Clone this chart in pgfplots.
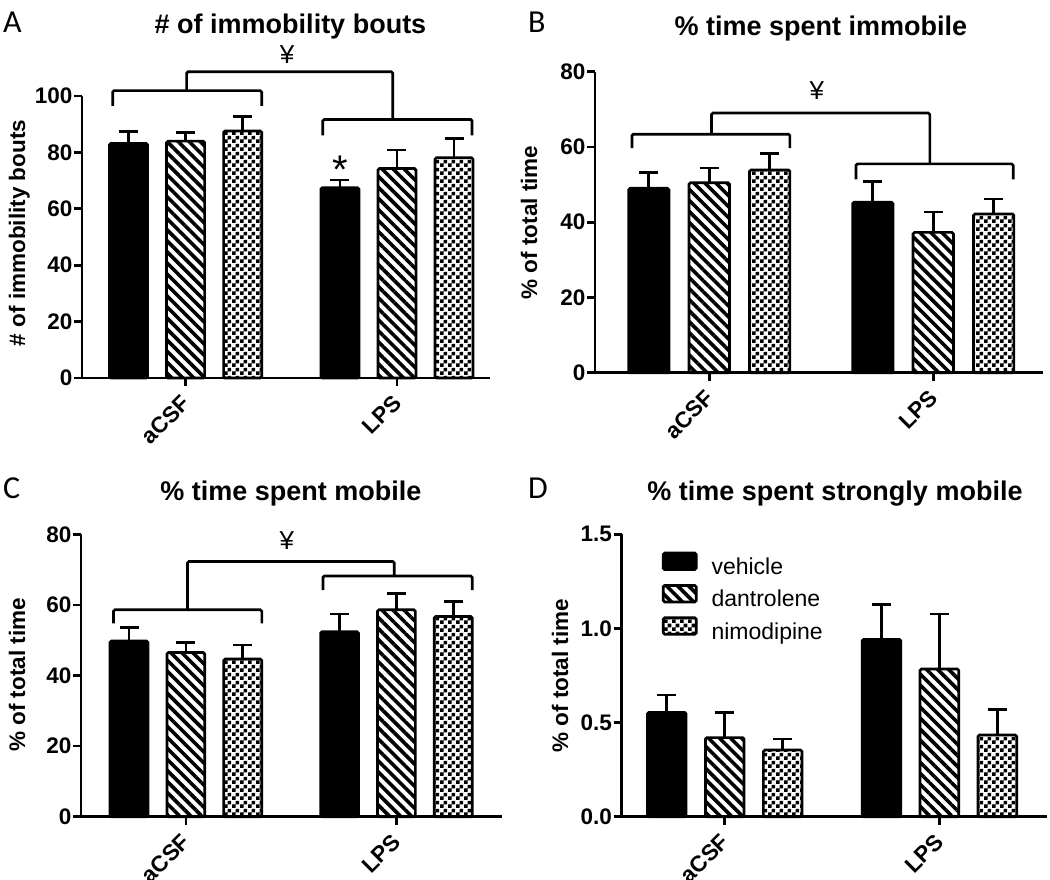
\documentclass[border=0pt]{standalone}
\usepackage{fontspec}
\setmainfont{Liberation Sans}
\newfontfamily\letterfont{Carlito}
\usepackage{pgfplots}
\pgfplotsset{compat=1.18}
\usetikzlibrary{patterns,patterns.meta}

% coarse checkerboard like the GraphPad fill
\pgfdeclarepatternformonly{bigchecker}{\pgfqpoint{0pt}{0pt}}{\pgfqpoint{8pt}{8pt}}{\pgfqpoint{8pt}{8pt}}{%
  \pgfpathrectangle{\pgfqpoint{0pt}{0pt}}{\pgfqpoint{4pt}{4pt}}%
  \pgfpathrectangle{\pgfqpoint{4pt}{4pt}}{\pgfqpoint{4pt}{4pt}}%
  \pgfusepath{fill}}

\newcommand\tfont{\bfseries\fontsize{27}{32}\selectfont}
\newcommand\lfont{\bfseries\fontsize{22.5}{27}\selectfont}
\newcommand\yen{\fontsize{26}{30}\selectfont ¥}

\tikzset{brk/.style={line width=2.7pt, rounded corners=1.5pt}}

\pgfplotsset{
  panel/.style={
    scale only axis, anchor=south west,
    axis x line*=bottom, axis y line*=left,
    axis line style={-, line width=2.7pt},
    major tick style={line width=2.7pt, black},
    major tick length=8pt, tick align=outside,
    xtick={0,1}, xticklabels={aCSF,LPS},
    ymin=0, clip=false,
    tick label style={font=\lfont},
    /pgf/number format/assume math mode=true,
    xticklabel style={rotate=45, anchor=east, inner sep=1pt, xshift=-8pt, yshift=-9.6pt},
    yticklabel style={inner sep=1.5pt},
  },
  vbar/.style={
    ybar, bar width=0.18, bar shift=0pt, draw=black, line width=2.7pt,
    rounded corners=1.5pt,
    error bars/y dir=plus, error bars/y explicit,
    error bars/error bar style={line width=2.7pt, black},
    error bars/error mark options={rotate=90, mark size=9.5pt, line width=2.7pt, black},
    legend image code/.code={\draw[##1, /tikz/.cd, line width=2.7pt, rounded corners=1.5pt] (0pt,-0.5pt) rectangle (33pt,16pt);},
  },
  veh/.style={vbar, fill=black},
  dan/.style={vbar, pattern={Lines[angle=-45, distance=7.8pt, line width=3.6pt]}},
  nim/.style={vbar, pattern=bigchecker},
}

\begin{document}
\begin{tikzpicture}
\useasboundingbox (0pt,0pt) rectangle (1050pt,879pt);

% ---------- A ----------
\begin{axis}[panel, at={(82pt,501pt)}, width=408pt, height=282pt,
  xmin=-0.49, xmax=1.44, ymax=100, ytick={0,20,...,100}]
\addplot[veh] coordinates {(-0.27,83.2) +- (0,4.2) (0.73,67.5) +- (0,2.7)};
\addplot[dan] coordinates {(0,84.0) +- (0,3.0) (1,74.3) +- (0,6.6)};
\addplot[nim] coordinates {(0.27,87.6) +- (0,5.1) (1.27,78.1) +- (0,6.9)};
\draw[brk] (axis cs:-0.345,96.5) |- (axis cs:0.36,101.9) -- (axis cs:0.36,96.5);
\draw[brk] (axis cs:0.649,86) |- (axis cs:1.355,91.7) -- (axis cs:1.355,86);
\draw[brk] (axis cs:0.005,101.9) |- (axis cs:0.98,108.6) -- (axis cs:0.98,91.7);
\node[anchor=base] at (axis cs:0.48,111.6) {\yen};
\node[anchor=base, font=\fontsize{40}{48}\selectfont] at (axis cs:0.73,68.8) {*};
\end{axis}

% ---------- B ----------
\begin{axis}[panel, at={(595pt,506.3pt)}, width=448pt, height=301pt,
  xmin=-0.51, xmax=1.49, ymax=80, ytick={0,20,...,80}]
\addplot[veh] coordinates {(-0.27,49.0) +- (0,4.2) (0.73,45.3) +- (0,5.5)};
\addplot[dan] coordinates {(0,50.5) +- (0,3.9) (1,37.3) +- (0,5.4)};
\addplot[nim] coordinates {(0.27,53.9) +- (0,4.3) (1.27,42.2) +- (0,4.0)};
\draw[brk] (axis cs:-0.345,59.7) |- (axis cs:0.36,63.4) -- (axis cs:0.36,59.7);
\draw[brk] (axis cs:0.655,51.4) |- (axis cs:1.357,55.5) -- (axis cs:1.357,51.4);
\draw[brk] (axis cs:0.01,63.4) |- (axis cs:0.985,69.0) -- (axis cs:0.985,55.5);
\node[anchor=base] at (axis cs:0.48,72.5) {\yen};
\end{axis}

% ---------- C ----------
\begin{axis}[panel, at={(81pt,62.3pt)}, width=420.7pt, height=282.4pt,
  xmin=-0.498, xmax=1.50, ymax=80, ytick={0,20,...,80}]
\addplot[veh] coordinates {(-0.27,49.8) +- (0,3.8) (0.73,52.4) +- (0,5.0)};
\addplot[dan] coordinates {(0,46.5) +- (0,2.9) (1,58.6) +- (0,4.7)};
\addplot[nim] coordinates {(0.27,44.7) +- (0,3.9) (1.27,56.7) +- (0,4.2)};
\draw[brk] (axis cs:-0.344,54.8) |- (axis cs:0.361,58.6) -- (axis cs:0.361,54.8);
\draw[brk] (axis cs:0.651,64.2) |- (axis cs:1.36,68.2) -- (axis cs:1.36,64.2);
\draw[brk] (axis cs:0.008,58.6) |- (axis cs:0.99,72.3) -- (axis cs:0.99,68.2);
\node[anchor=base] at (axis cs:0.48,75.6) {\yen};
\end{axis}

% ---------- D ----------
\begin{axis}[panel, at={(621.7pt,62.3pt)}, width=425pt, height=282.4pt,
  xmin=-0.48, xmax=1.50, ymax=1.5, ytick={0,0.5,1,1.5},
  yticklabel style={/pgf/number format/.cd, fixed, fixed zerofill, precision=1},
  legend cell align=left,
  legend style={at={(rel axis cs:0.094,0.939)}, anchor=north west, draw=none, fill=none,
    inner sep=0pt, row sep=4.5pt, font=\fontsize{23}{27}\selectfont,
    nodes={inner sep=0pt, text height=16pt, text depth=5pt},
    /tikz/every odd column/.style={column sep=14pt}}]
\addplot[veh] coordinates {(-0.27,0.554) +- (0,0.092) (0.73,0.942) +- (0,0.186)};
\addplot[dan] coordinates {(0,0.42) +- (0,0.133) (1,0.785) +- (0,0.292)};
\addplot[nim] coordinates {(0.27,0.354) +- (0,0.059) (1.27,0.434) +- (0,0.136)};
\legend{vehicle, dantrolene, nimodipine}
\end{axis}

% titles, axis labels, panel letters
\node[anchor=base, font=\tfont] at (290.5pt,845pt) {\# of immobility bouts};
\node[anchor=base, font=\tfont] at (820.8pt,843pt) {\% time spent immobile};
\node[anchor=base, font=\tfont] at (290.8pt,378pt) {\% time spent mobile};
\node[anchor=base, font=\tfont] at (835pt,378pt) {\% time spent strongly mobile};
\node[anchor=base, rotate=90, font=\lfont] at (25pt,646pt) {\# of immobility bouts};
\node[anchor=base, rotate=90, font=\lfont] at (537pt,656.5pt) {\% of total time};
\node[anchor=base, rotate=90, font=\lfont] at (25pt,204pt) {\% of total time};
\node[anchor=base, rotate=90, font=\lfont] at (568pt,203.2pt) {\% of total time};
\node[anchor=base west, inner sep=0pt, font=\letterfont\fontsize{32}{38}\selectfont] at (3pt,846pt) {A};
\node[anchor=base west, inner sep=0pt, font=\letterfont\fontsize{32}{38}\selectfont] at (528pt,846pt) {B};
\node[anchor=base west, inner sep=0pt, font=\letterfont\fontsize{32}{38}\selectfont] at (3pt,380pt) {C};
\node[anchor=base west, inner sep=0pt, font=\letterfont\fontsize{32}{38}\selectfont] at (528pt,380pt) {D};
\end{tikzpicture}
\end{document}
